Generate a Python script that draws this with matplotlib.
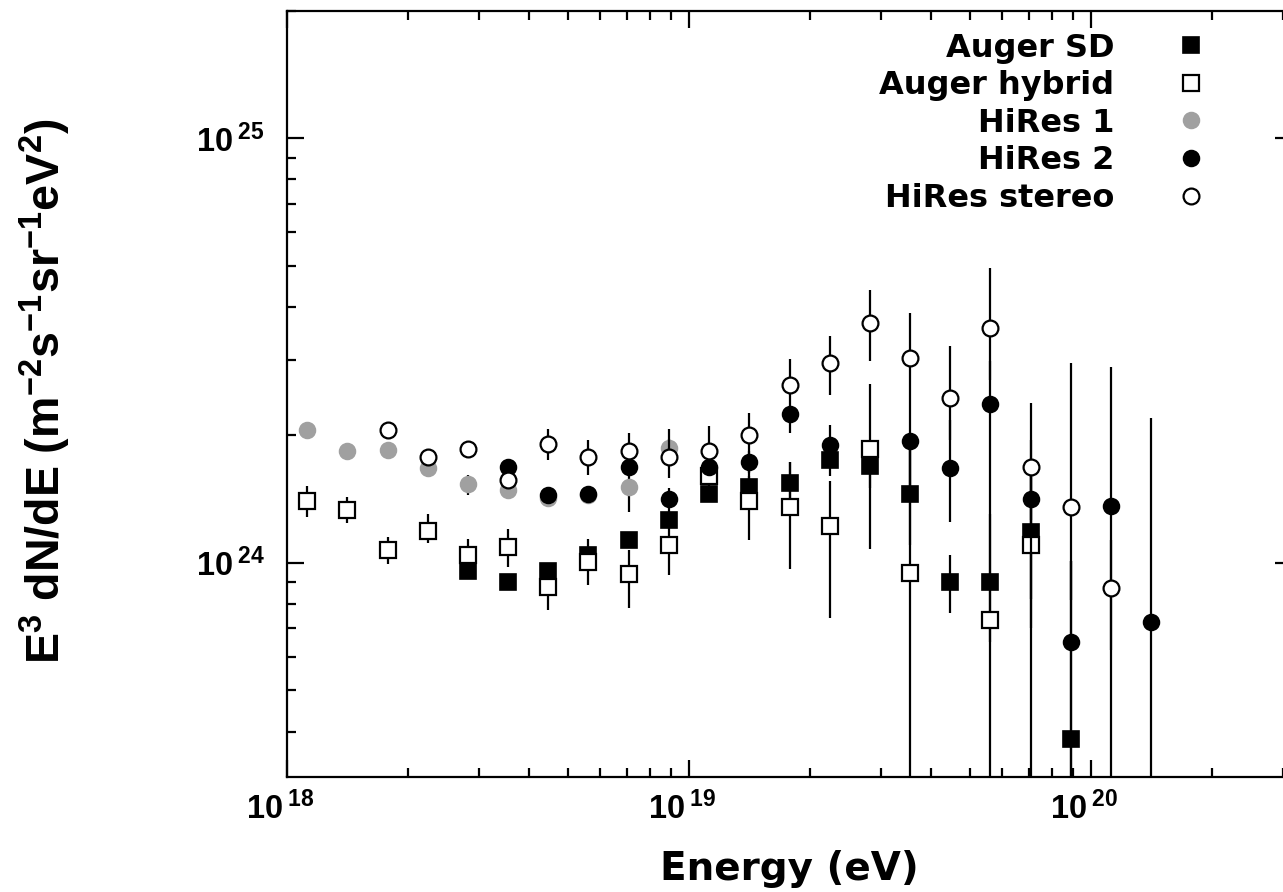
import matplotlib
matplotlib.use('Agg')
import matplotlib.pyplot as plt
import matplotlib.transforms as mtransforms
from matplotlib.ticker import LogLocator, FuncFormatter, NullFormatter
import numpy as np

plt.rcParams['mathtext.fontset'] = 'custom'
plt.rcParams['mathtext.rm'] = 'Liberation Sans'
plt.rcParams['mathtext.bf'] = 'Liberation Sans:bold'
plt.rcParams['mathtext.it'] = 'Liberation Sans:italic'
plt.rcParams['font.family'] = ['DejaVu Sans']

# ---------------- data (E in eV, E^3 dN/dE in m^-2 s^-1 sr^-1 eV^2) ----------------
sd_E = [2.82e18, 3.55e18, 4.47e18, 5.62e18, 7.08e18, 8.91e18, 1.12e19, 1.41e19,
        1.78e19, 2.24e19, 2.82e19, 3.55e19, 4.47e19, 5.62e19, 7.08e19, 8.91e19]
sd_y = [9.55e23, 8.99e23, 9.55e23, 1.04e24, 1.13e24, 1.26e24, 1.45e24, 1.51e24,
        1.54e24, 1.75e24, 1.69e24, 1.45e24, 8.99e23, 8.99e23, 1.18e24, 3.84e23]
sd_lo = [9.3e23, 8.75e23, 9.25e23, 1.0e24, 1.09e24, 1.21e24, 1.39e24, 1.43e24,
         1.41e24, 1.6e24, 1.5e24, 1.1e24, 7.6e23, 6.5e23, 7.0e23, 1e23]
sd_hi = [9.8e23, 9.25e23, 9.85e23, 1.08e24, 1.17e24, 1.31e24, 1.51e24, 1.60e24,
         1.73e24, 1.93e24, 1.9e24, 1.84e24, 1.04e24, 1.3e24, 1.6e24, 1.01e24]

hyb_E = [1.12e18, 1.41e18, 1.78e18, 2.24e18, 2.82e18, 3.55e18, 4.47e18, 5.62e18, 7.08e18,
         8.91e18, 1.12e19, 1.41e19, 1.78e19, 2.24e19, 2.82e19, 3.55e19, 5.62e19, 7.08e19]
hyb_y = [1.40e24, 1.33e24, 1.07e24, 1.19e24, 1.04e24, 1.09e24, 8.75e23, 1.005e24, 9.42e23,
         1.10e24, 1.60e24, 1.40e24, 1.355e24, 1.22e24, 1.85e24, 9.47e23, 7.33e23, 1.10e24]
hyb_lo = [1.28e24, 1.24e24, 9.93e23, 1.11e24, 9.6e23, 9.77e23, 7.74e23, 8.86e23, 7.82e23,
          9.36e23, 1.5e24, 1.13e24, 9.67e23, 7.41e23, 1.08e24, 1e23, 1e23, 1e23]
hyb_hi = [1.52e24, 1.43e24, 1.15e24, 1.30e24, 1.14e24, 1.20e24, 9.6e23, 1.14e24, 1.07e24,
          1.26e24, 1.7e24, 1.65e24, 1.73e24, 1.56e24, 2.64e24, 1.95e24, 1.82e24, 1.7e24]

hr1_E = [1.12e18, 1.41e18, 1.78e18, 2.24e18, 2.82e18, 3.55e18, 4.47e18, 5.62e18, 7.08e18, 8.91e18]
hr1_y = [2.05e24, 1.83e24, 1.84e24, 1.67e24, 1.53e24, 1.48e24, 1.42e24, 1.44e24, 1.51e24, 1.86e24]
hr1_lo = [2.0e24, 1.79e24, 1.80e24, 1.63e24, 1.44e24, 1.42e24, 1.36e24, 1.38e24, 1.32e24, 1.76e24]
hr1_hi = [2.10e24, 1.87e24, 1.88e24, 1.71e24, 1.61e24, 1.54e24, 1.48e24, 1.50e24, 1.65e24, 1.96e24]

hr2_E = [3.55e18, 4.47e18, 5.62e18, 7.08e18, 8.91e18, 1.12e19, 1.41e19, 1.78e19,
         2.24e19, 3.55e19, 4.47e19, 5.62e19, 7.08e19, 8.91e19, 1.12e20, 1.41e20]
hr2_y = [1.68e24, 1.44e24, 1.45e24, 1.68e24, 1.41e24, 1.68e24, 1.73e24, 2.24e24,
         1.89e24, 1.94e24, 1.67e24, 2.37e24, 1.41e24, 6.52e23, 1.36e24, 7.26e23]
hr2_lo = [1.62e24, 1.39e24, 1.40e24, 1.62e24, 1.32e24, 1.6e24, 1.63e24, 2.02e24,
          1.72e24, 1.52e24, 1.25e24, 1.82e24, 8.2e23, 1e23, 1e23, 1e23]
hr2_hi = [1.74e24, 1.49e24, 1.50e24, 1.74e24, 1.50e24, 1.76e24, 1.83e24, 2.33e24,
          2.11e24, 2.42e24, 2.17e24, 2.99e24, 1.95e24, 1.01e24, 2.89e24, 2.19e24]

st_E = [1.78e18, 2.24e18, 2.82e18, 3.55e18, 4.47e18, 5.62e18, 7.08e18, 8.91e18, 1.12e19, 1.41e19,
        1.78e19, 2.24e19, 2.82e19, 3.55e19, 4.47e19, 5.62e19, 7.08e19, 8.91e19, 1.12e20]
st_y = [2.05e24, 1.77e24, 1.85e24, 1.57e24, 1.90e24, 1.77e24, 1.83e24, 1.77e24, 1.83e24, 2.0e24,
        2.62e24, 2.95e24, 3.68e24, 3.03e24, 2.44e24, 3.58e24, 1.68e24, 1.355e24, 8.7e23]
st_lo = [1.97e24, 1.70e24, 1.78e24, 1.51e24, 1.75e24, 1.61e24, 1.65e24, 1.58e24, 1.65e24, 1.77e24,
         2.29e24, 2.48e24, 2.98e24, 2.42e24, 1.95e24, 2.70e24, 1.26e24, 8.16e23, 6.22e23]
st_hi = [2.13e24, 1.84e24, 1.92e24, 1.63e24, 2.06e24, 1.95e24, 2.02e24, 2.06e24, 2.10e24, 2.25e24,
         3.02e24, 3.42e24, 4.39e24, 3.88e24, 3.24e24, 4.94e24, 2.38e24, 2.95e24, 1.13e24]

labels = ['Auger SD', 'Auger hybrid', 'HiRes 1', 'HiRes 2', 'HiRes stereo']
GRAY = '#a0a0a0'

# ---------------- figure ----------------
W, H = 1283, 892
fig = plt.figure(figsize=(W / 100, H / 100), dpi=100)
x0, x1, y0, y1 = 287, 1292, 10.5, 776.5
ax = fig.add_axes([x0 / W, (H - y1) / H, (x1 - x0) / W, (y1 - y0) / H])
ax.set_xscale('log')
ax.set_yscale('log')
ax.set_xlim(1e18, 10 ** 20.5)
ax.set_ylim(3.135e23, 2.0e25)


def series(E, y, lo, hi, z, **kw):
    y = np.asarray(y)
    err = [y - np.asarray(lo), np.asarray(hi) - y]
    return ax.errorbar(E, y, yerr=err, linestyle='none', ecolor='black',
                       elinewidth=1.6, capsize=0, zorder=z, **kw)


ms = 11.4
h_hr1 = series(hr1_E, hr1_y, hr1_lo, hr1_hi, 2, marker='o', ms=ms, mfc=GRAY, mec=GRAY, mew=1.2)
h_sd = series(sd_E, sd_y, sd_lo, sd_hi, 3, marker='s', ms=ms, mfc='black', mec='black', mew=1.2)
h_hyb = series(hyb_E, hyb_y, hyb_lo, hyb_hi, 4, marker='s', ms=ms, mfc='white', mec='black', mew=1.6)
h_hr2 = series(hr2_E, hr2_y, hr2_lo, hr2_hi, 5, marker='o', ms=ms, mfc='black', mec='black', mew=1.2)
h_st = series(st_E, st_y, st_lo, st_hi, 6, marker='o', ms=ms, mfc='white', mec='black', mew=1.6)

# ---------------- axes styling ----------------
for s in ax.spines.values():
    s.set_linewidth(1.6)
ax.xaxis.set_major_locator(LogLocator(base=10, numticks=20))
ax.yaxis.set_major_locator(LogLocator(base=10, numticks=20))
ax.xaxis.set_minor_locator(LogLocator(base=10, subs=np.arange(2, 10), numticks=40))
ax.yaxis.set_minor_locator(LogLocator(base=10, subs=np.arange(2, 10), numticks=40))
fmt = FuncFormatter(lambda v, p: r'$\mathbf{10}^{\;\mathbf{%d}}$' % int(round(np.log10(v))))
ax.xaxis.set_major_formatter(fmt)
ax.yaxis.set_major_formatter(fmt)
ax.xaxis.set_minor_formatter(NullFormatter())
ax.yaxis.set_minor_formatter(NullFormatter())
ax.tick_params(which='both', direction='in', top=True, right=True, width=1.6, labelsize=23.5)
ax.tick_params(which='major', length=12.5)
ax.tick_params(which='minor', length=6.5)
ax.tick_params(axis='x', which='major', pad=11)
ax.tick_params(axis='y', which='major', pad=16)

# base "10" of each x label ends at its tick, as in the reference
off = mtransforms.ScaledTranslation(-7 / 100, 0, fig.dpi_scale_trans)
for lab in ax.get_xticklabels():
    lab.set_transform(lab.get_transform() + off)

ax.set_xlabel('Energy (eV)', fontsize=28, fontweight='bold')
ax.xaxis.label.set_va('baseline')
ax.xaxis.set_label_coords(0.5, -(880 - y1) / (y1 - y0))

ax.set_ylabel(r'$\mathbf{E^{3}\ dN/dE\ (m^{-2}s^{-1}sr^{-1}eV^{2})}$', fontsize=33.5)
ax.yaxis.label.set_va('center')
ax.yaxis.set_label_coords((45 - x0) / (x1 - x0), 0.503)

# ---------------- legend ----------------
handles = [h_sd[0], h_hyb[0], h_hr1[0], h_hr2[0], h_st[0]]
leg = ax.legend(handles, labels, loc='upper right',
                bbox_to_anchor=((1207 - x0) / (x1 - x0), (y1 - 32.5) / (y1 - y0)),
                frameon=False, markerfirst=False, borderpad=0, borderaxespad=0,
                handlelength=1.0, handletextpad=1.9, labelspacing=0.205,
                prop={'family': 'DejaVu Sans', 'weight': 'bold', 'size': 23})
for col in leg._legend_handle_box.get_children():
    col.align = 'right'

fig.savefig('out.png', dpi=100)
